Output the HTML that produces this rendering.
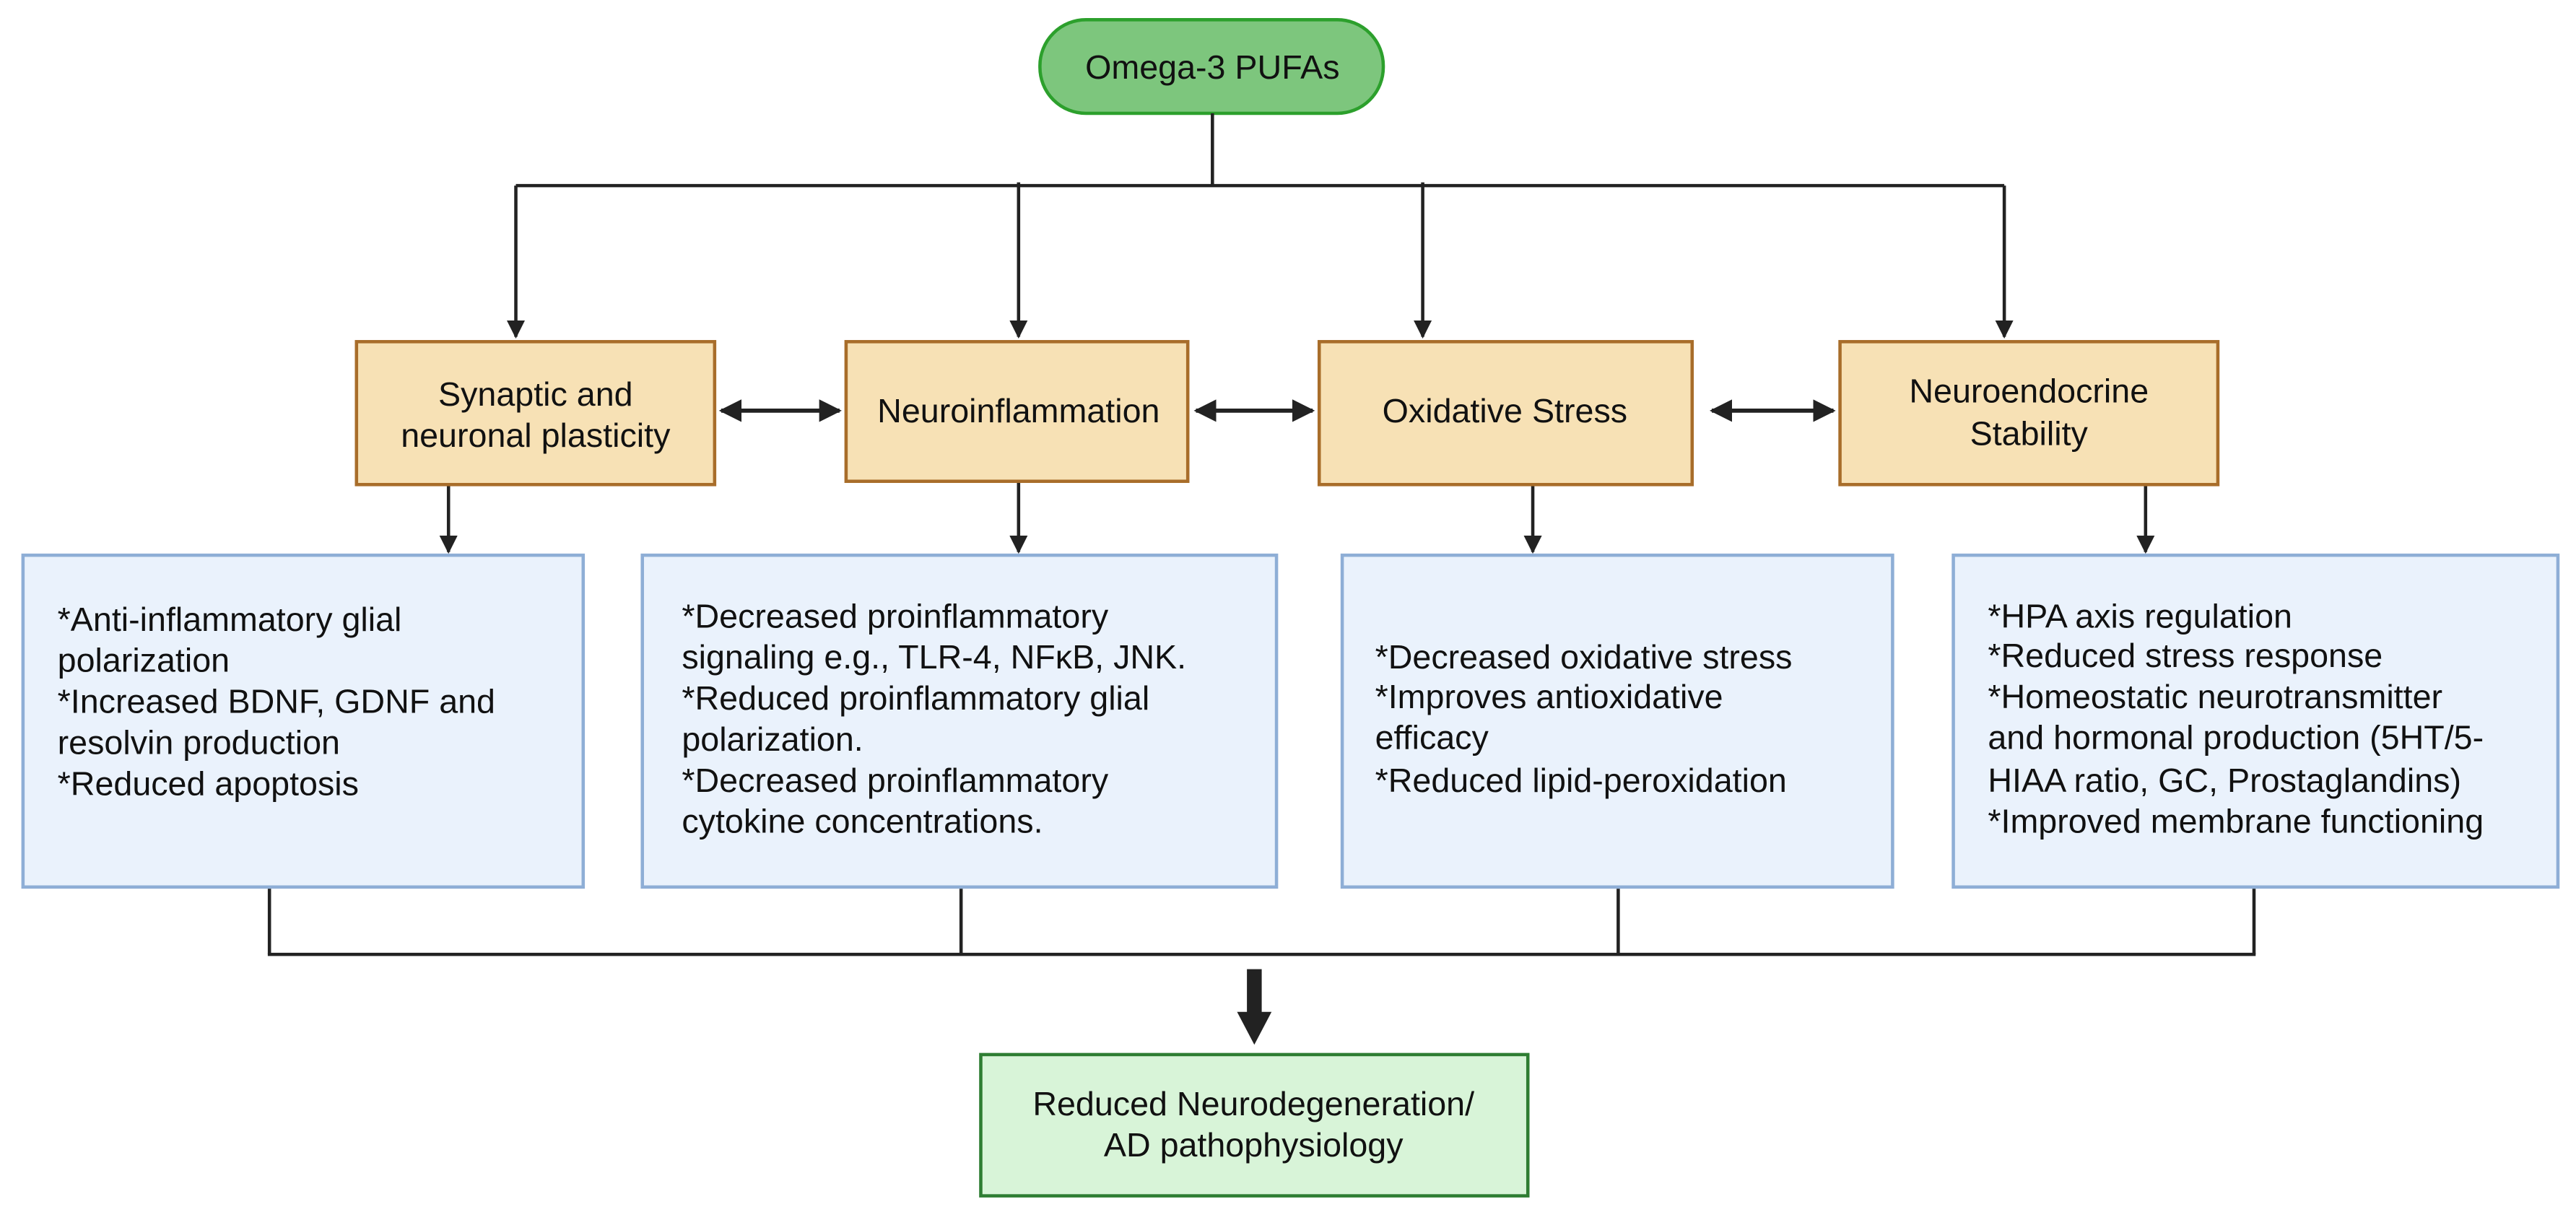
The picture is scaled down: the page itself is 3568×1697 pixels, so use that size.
<!DOCTYPE html>
<html><head><meta charset="utf-8"><style>
html,body{margin:0;padding:0;background:#fff;}
svg{display:block;}
text{font-family:"Liberation Sans",Arial,sans-serif;font-size:20.5px;fill:#111;}
</style></head><body>
<svg width="3568" height="1697" viewBox="0 0 1568 745.75" preserveAspectRatio="none" xmlns="http://www.w3.org/2000/svg">
<defs>
<marker id="a" viewBox="0 0 10 10" refX="9" refY="5" markerWidth="5.5" markerHeight="5.5" orient="auto-start-reverse"><path d="M0,0L10,5L0,10z" fill="#222"/></marker>
</defs>
<rect width="1568" height="746" fill="#fff"/>
<rect x="633" y="12" width="209" height="57" rx="28" fill="#7dc67d" stroke="#2ca02c" stroke-width="2"/>
<text x="738" y="48" text-anchor="middle">Omega-3 PUFAs</text>
<g stroke="#222" stroke-width="2" fill="none">
<line x1="738" y1="69" x2="738" y2="113"/>
<line x1="314" y1="113" x2="1220" y2="113"/>
<line x1="314" y1="113" x2="314" y2="205" marker-end="url(#a)"/>
<line x1="620" y1="111" x2="620" y2="205" marker-end="url(#a)"/>
<line x1="866" y1="111" x2="866" y2="205" marker-end="url(#a)"/>
<line x1="1220" y1="113" x2="1220" y2="205" marker-end="url(#a)"/>
<line x1="439" y1="250" x2="511" y2="250" marker-start="url(#a)" marker-end="url(#a)" stroke-width="2.5"/>
<line x1="728" y1="250" x2="799" y2="250" marker-start="url(#a)" marker-end="url(#a)" stroke-width="2.5"/>
<line x1="1042" y1="250" x2="1116" y2="250" marker-start="url(#a)" marker-end="url(#a)" stroke-width="2.5"/>
<line x1="273" y1="295" x2="273" y2="336" marker-end="url(#a)"/>
<line x1="620" y1="293" x2="620" y2="336" marker-end="url(#a)"/>
<line x1="933" y1="295" x2="933" y2="336" marker-end="url(#a)"/>
<line x1="1306" y1="295" x2="1306" y2="336" marker-end="url(#a)"/>
<line x1="164" y1="541" x2="164" y2="581"/>
<line x1="585" y1="541" x2="585" y2="581"/>
<line x1="985" y1="541" x2="985" y2="581"/>
<line x1="1372" y1="541" x2="1372" y2="581"/>
<line x1="163" y1="581" x2="1373" y2="581"/>
</g>
<rect x="759" y="590" width="9" height="28" fill="#222"/>
<path d="M753,616L774,616L763.5,636z" fill="#222"/>
<g fill="#f7e1b5" stroke="#a86d2a" stroke-width="2">
<rect x="217" y="208" width="218" height="87"/>
<rect x="515" y="208" width="208" height="85"/>
<rect x="803" y="208" width="227" height="87"/>
<rect x="1120" y="208" width="230" height="87"/>
</g>
<text x="326" y="247" text-anchor="middle">Synaptic and</text>
<text x="326" y="272" text-anchor="middle">neuronal plasticity</text>
<text x="620" y="257" text-anchor="middle">Neuroinflammation</text>
<text x="916" y="257" text-anchor="middle">Oxidative Stress</text>
<text x="1235" y="245" text-anchor="middle">Neuroendocrine</text>
<text x="1235" y="271" text-anchor="middle">Stability</text>
<g fill="#eaf2fc" stroke="#8eaed6" stroke-width="2">
<rect x="14" y="338" width="341" height="202"/>
<rect x="391" y="338" width="386" height="202"/>
<rect x="817" y="338" width="335" height="202"/>
<rect x="1189" y="338" width="368" height="202"/>
</g>
<text x="35" y="384">*Anti-inflammatory glial</text>
<text x="35" y="409">polarization</text>
<text x="35" y="434">*Increased BDNF, GDNF and</text>
<text x="35" y="459">resolvin production</text>
<text x="35" y="484">*Reduced apoptosis</text>

<text x="415" y="382">*Decreased proinflammatory</text>
<text x="415" y="407">signaling e.g., TLR-4, NFκB, JNK.</text>
<text x="415" y="432">*Reduced proinflammatory glial</text>
<text x="415" y="457">polarization.</text>
<text x="415" y="482">*Decreased proinflammatory</text>
<text x="415" y="507">cytokine concentrations.</text>

<text x="837" y="407">*Decreased oxidative stress</text>
<text x="837" y="431">*Improves antioxidative</text>
<text x="837" y="456">efficacy</text>
<text x="837" y="482">*Reduced lipid-peroxidation</text>

<text x="1210" y="382">*HPA axis regulation</text>
<text x="1210" y="406">*Reduced stress response</text>
<text x="1210" y="431">*Homeostatic neurotransmitter</text>
<text x="1210" y="456">and hormonal production (5HT/5-</text>
<text x="1210" y="482">HIAA ratio, GC, Prostaglandins)</text>
<text x="1210" y="507">*Improved membrane functioning</text>
<rect x="597" y="642" width="333" height="86" fill="#d8f4d8" stroke="#2e7d32" stroke-width="2"/>
<text x="763" y="679" text-anchor="middle">Reduced Neurodegeneration/</text>
<text x="763" y="704" text-anchor="middle">AD pathophysiology</text>
</svg>
</body></html>
